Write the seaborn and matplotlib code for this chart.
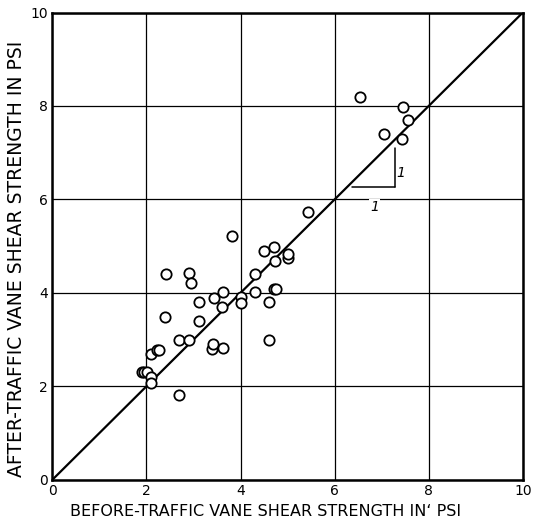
"""Before- vs after-traffic vane shear strength scatter with 1:1 line."""

import matplotlib

matplotlib.use("Agg")
import matplotlib.pyplot as plt
import pandas as pd
import seaborn as sns

# Data (psi).
before_psi = [
    1.90, 1.95, 2.02, 2.10, 2.10, 2.10, 2.22, 2.26, 2.70, 2.39, 2.41,
    2.70, 2.91, 2.91, 2.94, 3.12, 3.12, 3.39, 3.42, 3.43, 3.62, 3.61,
    3.62, 3.81, 4.02, 4.02, 4.31, 4.31, 4.49, 4.61, 4.60, 4.71, 4.73,
    4.72, 4.75, 5.00, 5.00, 5.44, 6.53, 7.04, 7.43, 7.45, 7.55,
]
after_psi = [
    2.30, 2.30, 2.30, 2.20, 2.07, 2.70, 2.78, 2.78, 1.82, 3.48, 4.41,
    3.00, 3.00, 4.42, 4.21, 3.80, 3.40, 2.80, 2.91, 3.89, 2.82, 3.69,
    4.01, 5.22, 3.91, 3.78, 4.01, 4.41, 4.90, 3.80, 2.99, 4.99, 4.69,
    4.09, 4.09, 4.74, 4.84, 5.73, 8.19, 7.39, 7.29, 7.97, 7.69,
]
equality_line = [0, 10]
ticks = [0, 2, 4, 6, 8, 10]

df = pd.DataFrame({"before": before_psi, "after": after_psi})
line_df = pd.DataFrame({"x": equality_line, "y": equality_line})

sns.set_style("white")
plt.rcParams["font.family"] = ["DejaVu Sans"]
plt.rcParams["text.color"] = "black"

fig = plt.figure(figsize=(5.39, 5.21), dpi=100)
ax = fig.add_axes([0.097, 0.079, 0.873, 0.897])

# 1:1 line.
sns.lineplot(data=line_df, x="x", y="y", color="black", linewidth=1.6, ax=ax, zorder=2)

# Test points.
sns.scatterplot(
    data=df,
    x="before",
    y="after",
    marker="o",
    s=55,
    facecolor="white",
    edgecolor="black",
    linewidth=1.3,
    ax=ax,
    zorder=3,
)

# Slope triangle.
ax.plot([7.29, 7.29], [7.10, 6.27], color="black", linewidth=1.1)
ax.plot([6.36, 7.29], [6.27, 6.27], color="black", linewidth=1.1)
ax.text(7.41, 6.57, "1", fontsize=10, style="italic", ha="center", va="center")
ax.text(6.85, 5.83, "1", fontsize=10, style="italic", ha="center", va="center",
        bbox=dict(facecolor="white", edgecolor="none", pad=1))

ax.set_xlim(0, 10)
ax.set_ylim(0, 10)
ax.set_xticks(ticks)
ax.set_yticks(ticks)
ax.grid(True, color="black", linewidth=0.9)
ax.set_axisbelow(True)
for spine in ax.spines.values():
    spine.set_color("black")
    spine.set_linewidth(1.8)
ax.tick_params(axis="both", length=0, labelsize=10, pad=3, colors="black")
ax.set_xlabel("")
ax.set_ylabel("")

# Axis titles placed as in the reference.
fig.text(266 / 539, 1 - 511 / 521, "BEFORE-TRAFFIC VANE SHEAR STRENGTH IN\u2018 PSI",
         fontsize=11.5, ha="center", va="center", color="black")
fig.text(17 / 539, 1 - 259 / 521, "AFTER-TRAFFIC VANE SHEAR STRENGTH IN PSI",
         fontsize=13.5, ha="center", va="center", rotation=90, color="black")

fig.savefig("out.png", dpi=100)
